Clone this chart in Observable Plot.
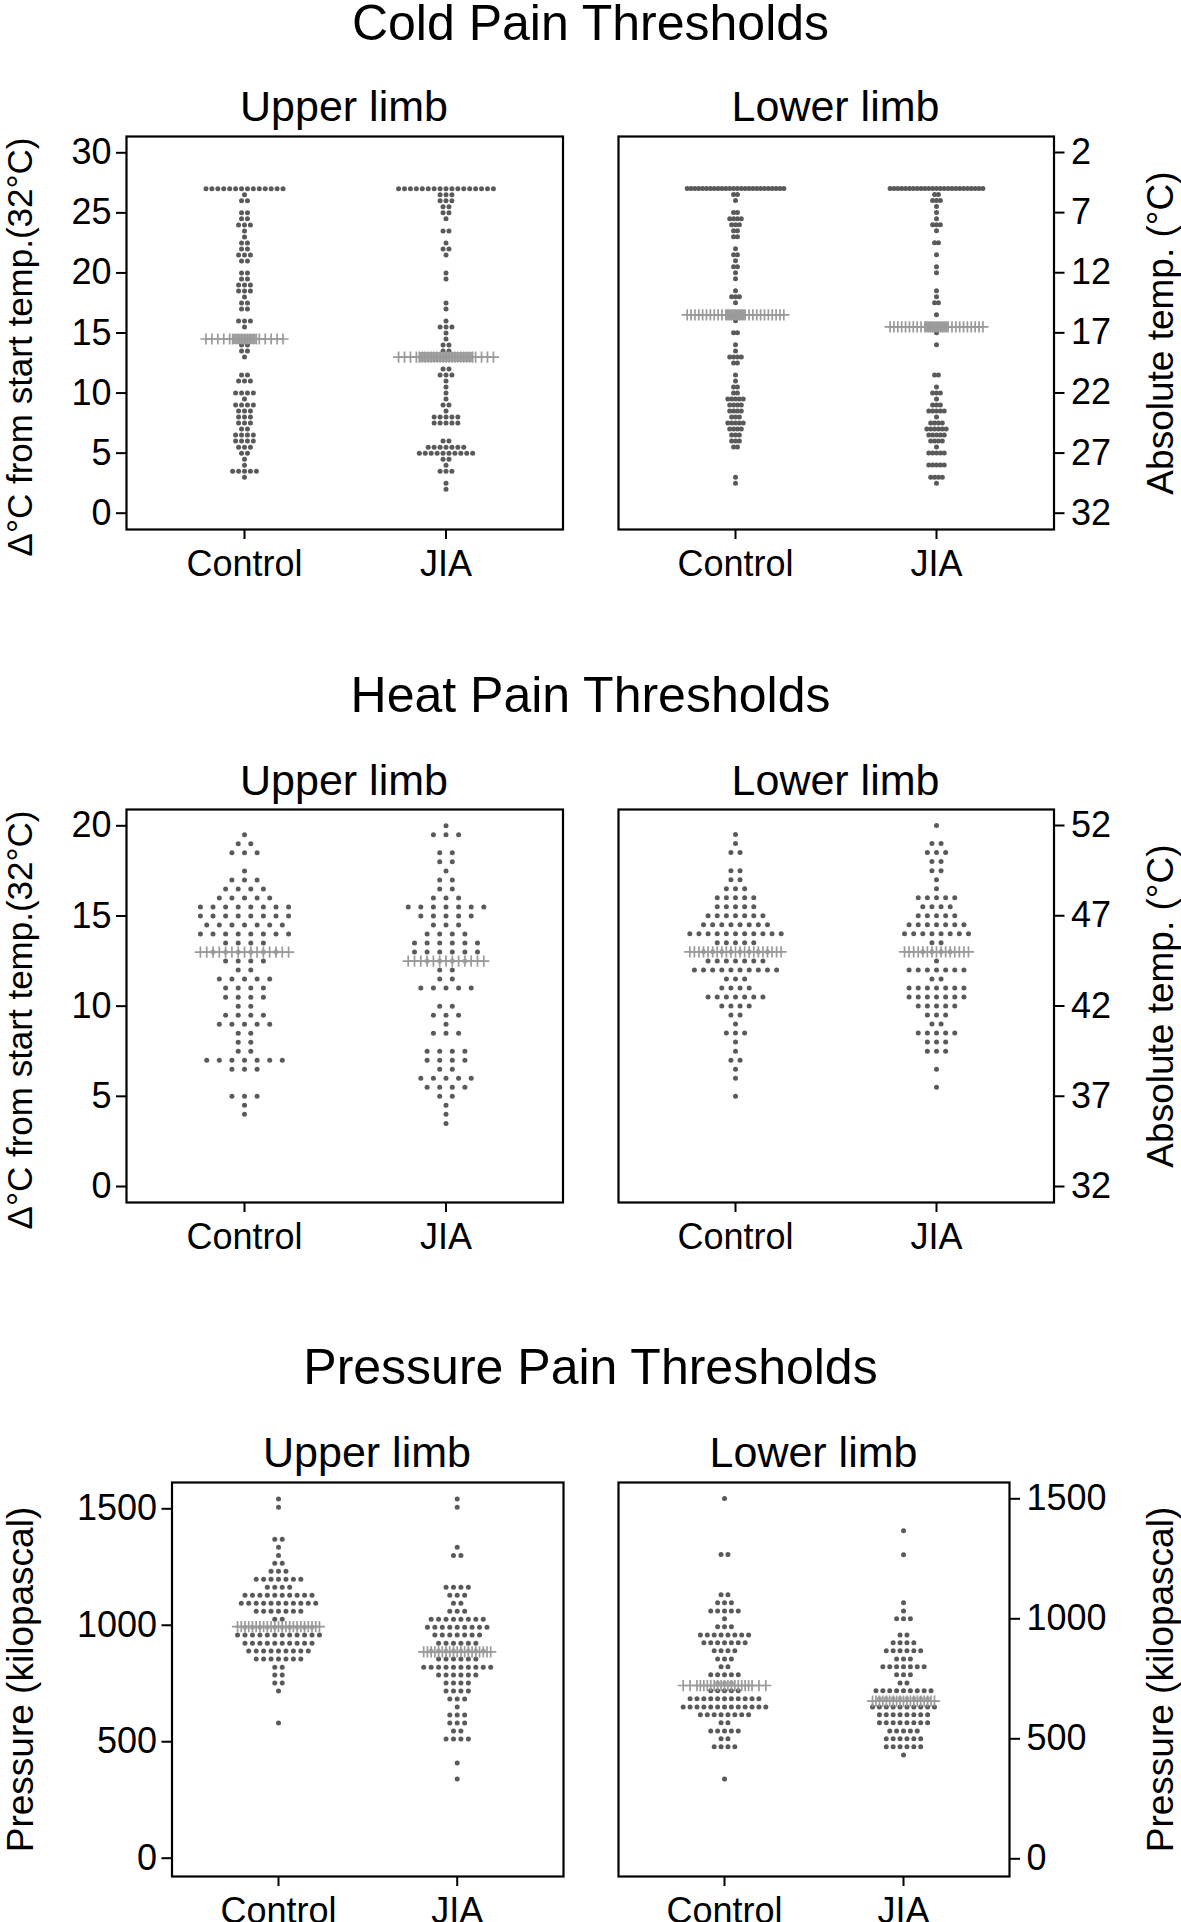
<!DOCTYPE html>
<html><head><meta charset="utf-8">
<script src="https://cdn.jsdelivr.net/npm/d3@7"></script>
<script src="https://cdn.jsdelivr.net/npm/@observablehq/plot@0.6"></script>
<style>
body{margin:0;background:#fff;}
#wrap{position:relative;width:1181px;height:1922px;overflow:hidden;font-family:"Liberation Sans",Arial,Helvetica,sans-serif;color:#000;background:#fff;}
.t{position:absolute;white-space:nowrap;line-height:1;transform:translateX(-50%);}
.panel{position:absolute;}
</style></head><body><div id="wrap"></div>
<script>
// ---------------- data ----------------
const groups = ["Control", "JIA"];

// Cold: Δ°C from start temp (32°C); [value, number of subjects]
const coldUpperControl = [[27,14],[26.5,1],[26,2],[25,2],[24.5,2],[24,3],[23.5,1],[23,1],[22.5,2],[22,2],[21.5,3],[21,2],[20,2],[19.5,2],[19,3],[18.5,3],[18,1],[17.5,2],[17,2],[16,3],[15.5,1],[14.5,4],[14,2],[13.5,2],[13,1],[11.5,2],[11,3],[10,4],[9.5,1],[9,4],[8.5,3],[8,3],[7.5,3],[7,2],[6.5,4],[6,4],[5.5,3],[5,2],[4.5,1],[4,1],[3.5,5],[3,1]];
const coldUpperJIA = [[27,17],[26.5,3],[26,3],[25.5,2],[25,2],[24.5,1],[23.5,2],[22.5,1],[22,2],[21.5,1],[20,1],[19.5,1],[17.5,1],[17,1],[16,1],[15.5,3],[15,1],[14.5,1],[14,2],[13.5,2],[13,9],[12,2],[11.5,3],[11,1],[10.5,1],[10,1],[9.5,1],[9,2],[8.5,1],[8,5],[7.5,5],[6,2],[5.5,7],[5,10],[4.5,2],[4,1],[3.5,3],[2.5,1],[2,1]];
const coldLowerControl = [[27,26],[26.5,2],[26,1],[25,2],[24.5,4],[24,3],[23.5,2],[23,2],[22,1],[21.5,2],[21,1],[20.5,2],[20,1],[19.5,1],[18.5,1],[18,3],[17.5,1],[16.5,5],[16,1],[15,2],[14,1],[13.5,1],[13,4],[12.5,2],[11.5,1],[11,1],[10.5,2],[10,2],[9.5,5],[9,4],[8.5,4],[8,3],[7.5,5],[7,4],[6.5,3],[6,3],[5.5,2],[3,1],[2.5,1]];
const coldLowerJIA = [[27,25],[26.5,2],[26,3],[25.5,1],[25,1],[24.5,1],[24,3],[23.5,1],[22.5,2],[21.5,1],[20.5,1],[20,1],[18.5,1],[18,1],[17.5,2],[16.5,1],[15.5,6],[15,1],[14,1],[11.5,2],[10.5,1],[10,3],[9.5,1],[9,3],[8.5,5],[8,1],[7.5,4],[7,6],[6.5,5],[6,4],[5.5,1],[5,5],[4,5],[3,4],[2.5,1]];
const coldUpperMedians = [14.5, 13];
const coldLowerMedians = [16.5, 15.5];

// Heat: Δ°C from start temp (32°C)
const heatUpperControl = [[19.5,1],[19,2],[18.5,3],[17.5,1],[17,3],[16.5,4],[16,5],[15.5,8],[15,8],[14.5,7],[14,8],[13.5,4],[13,6],[12.5,4],[12,2],[11.5,5],[11,4],[10.5,4],[10,2],[9.5,4],[9,5],[8.5,2],[8,2],[7.5,2],[7,7],[6.5,3],[5,3],[4.5,1],[4,1]];
const heatUpperJIA = [[20,1],[19.5,3],[18.5,2],[18,2],[17.5,1],[17,2],[16.5,2],[16,3],[15.5,7],[15,5],[14.5,3],[14,4],[13.5,6],[13,6],[12.5,4],[12,2],[11.5,2],[11,5],[10,2],[9.5,3],[9,1],[8.5,3],[7.5,4],[7,4],[6.5,2],[6,5],[5.5,4],[5,2],[4.5,1],[4,1],[3.5,1]];
const heatLowerControl = [[19.5,1],[19,1],[18.5,2],[17.5,2],[17,2],[16.5,3],[16,5],[15.5,5],[15,7],[14.5,8],[14,11],[13.5,5],[13,8],[12.5,7],[12,10],[11.5,3],[11,4],[10.5,7],[10,4],[9.5,2],[9,1],[8.5,3],[8,1],[7.5,1],[7,2],[6.5,1],[6,1],[5,1]];
const heatLowerJIA = [[20,1],[19,2],[18.5,3],[18,2],[17.5,2],[17,1],[16.5,1],[16,5],[15.5,4],[15,5],[14.5,7],[14,8],[13.5,2],[13,4],[12.5,1],[12,7],[11.5,2],[11,7],[10.5,7],[10,5],[9.5,3],[9,2],[8.5,5],[8,3],[7.5,3],[6.5,1],[5.5,1]];
const heatUpperMedians = [13, 12.5];
const heatLowerMedians = [13, 13];

// Pressure (kilopascal)
const pressureUpperControl = [[1542,1],[1507,1],[1369,2],[1335,1],[1300,1],[1266,2],[1232,3],[1198,7],[1163,4],[1129,10],[1095,11],[1060,7],[1026,2],[992,10],[958,12],[923,10],[889,9],[855,7],[820,2],[786,2],[752,2],[718,1],[580,1]];
const pressureUpperJIA = [[1542,1],[1507,1],[1335,1],[1300,2],[1163,4],[1129,3],[1095,2],[1060,3],[1026,8],[992,9],[958,7],[923,6],[889,8],[855,6],[820,10],[786,6],[752,4],[718,4],[683,3],[649,1],[615,3],[580,3],[546,2],[512,4],[409,1],[340,1]];
const pressureLowerControl = [[1501,1],[1268,2],[1100,2],[1067,3],[1033,5],[1000,1],[967,3],[933,8],[900,7],[867,4],[833,3],[800,2],[767,5],[733,3],[700,5],[667,11],[633,13],[600,8],[567,2],[533,5],[500,2],[467,4],[333,1]];
const pressureLowerJIA = [[1367,1],[1267,1],[1067,1],[1033,1],[1000,3],[933,2],[900,4],[867,6],[833,3],[800,7],[767,3],[733,2],[700,9],[667,8],[633,10],[600,8],[567,8],[533,5],[500,6],[467,6],[433,1]];
const pressureUpperMedians = [994, 886];
const pressureLowerMedians = [722, 657];

const coldTicks = [0, 5, 10, 15, 20, 25, 30];
const heatTicks = [0, 5, 10, 15, 20];
const pressureTicks = [0, 500, 1000, 1500];

// ---------------- drawing ----------------
const wrap = document.getElementById("wrap");
const FONT = "'Liberation Sans', Arial, Helvetica, sans-serif";
const DOT = "#5a5a5a", LIGHT = "#a4a4a4", CROSS = "#9a9a9a";

function addText(txt, x, baseline, size) {
  const d = document.createElement("div");
  d.className = "t";
  d.textContent = txt;
  d.style.left = x + "px";
  d.style.top = (baseline - 0.8465 * size) + "px";
  d.style.fontSize = size + "px";
  wrap.appendChild(d);
}

function buildPanel(cfg) {
  const {data, medians, ticks, tickFormat, anchor, title, titleSize, titleX, titleDy, frame, cx, yCal, binHalf, medianBlock} = cfg;
  const maxCount = d3.max(data, rows => d3.max(rows, d => d[1]));
  const step = 0.5 / maxCount;
  const pts = [];
  data.forEach((rows, g) => rows.forEach(([v, n]) => {
    for (let i = 0; i < n; i++) pts.push({x: g + (i - (n - 1) / 2) * step, y: v, med: Math.abs(v - medians[g]) < binHalf});
  }));
  // median marker: a "+" at every horizontal slot used by the group's dots
  const crosses = [];
  const blocks = [];
  data.forEach((rows, g) => {
    const offs = new Set();
    rows.forEach(([v, n]) => { for (let i = 0; i < n; i++) offs.add(i - (n - 1) / 2); });
    offs.forEach(o => crosses.push({x: g + o * step, y: medians[g]}));
    const medRow = rows.filter(([v]) => Math.abs(v - medians[g]) < binHalf);
    const cnt = d3.sum(medRow, d => d[1]);
    if (cnt > 0) blocks.push({y: medians[g], x1: g - cnt * step / 2, x2: g + cnt * step / 2});
  });

  const ppu = cx[1] - cx[0];
  const isLeft = anchor === "left";
  const marginTop = 20, marginBottom = 60;
  const mL = isLeft ? frame.left : 12;
  const mR = isLeft ? 12 : 1181 - frame.right;
  const svgLeft = isLeft ? 0 : frame.left - 12;
  const width = isLeft ? frame.right + 12 : 1181 - svgLeft;
  const height = frame.bottom - frame.top + marginTop + marginBottom;
  const xDomain = [(frame.left - cx[0]) / ppu, (frame.right - cx[0]) / ppu];
  const [[v1, p1], [v2, p2]] = yCal;
  const kpx = (p2 - p1) / (v2 - v1);
  const yDomain = [v1 + (frame.bottom - p1) / kpx, v1 + (frame.top - p1) / kpx];

  const plot = Plot.plot({
    width, height, marginTop, marginBottom, marginLeft: mL, marginRight: mR,
    x: {domain: xDomain, label: null},
    y: {domain: yDomain, label: null},
    style: {background: "transparent", overflow: "visible", fontFamily: FONT, color: "#000"},
    marks: [
      Plot.dot(pts.filter(d => !d.med), {x: "x", y: "y", r: 2.5, fill: DOT}),
      Plot.dot(pts.filter(d => d.med), {x: "x", y: "y", r: 2.5, fill: LIGHT}),
      medianBlock ? Plot.ruleY(blocks, {y: "y", x1: "x1", x2: "x2", stroke: LIGHT, strokeWidth: 10}) : null,
      Plot.dot(crosses, {x: "x", y: "y", symbol: "plus", r: 3.7, fill: "none", stroke: CROSS, strokeWidth: 1.7}),
      Plot.frame({stroke: "#000", strokeWidth: 2.2}),
      Plot.axisX({ticks: [0, 1], tickFormat: i => groups[i], tickSize: 10, tickPadding: 11, fontSize: 36, strokeWidth: 2, label: null}),
      Plot.axisY({anchor, ticks, tickFormat, tickSize: 10, tickPadding: isLeft ? 5 : 7, fontSize: 36, strokeWidth: 2, label: null}),
      Plot.text([title], {text: d => d, frameAnchor: anchor, rotate: -90, dx: titleX - (isLeft ? frame.left : frame.right), dy: titleDy || 0, fontSize: titleSize, textAnchor: "middle"})
    ]
  });
  const holder = document.createElement("div");
  holder.className = "panel";
  holder.style.left = svgLeft + "px";
  holder.style.top = (frame.top - marginTop) + "px";
  holder.appendChild(plot);
  wrap.appendChild(holder);
}

const fmt = d => `${d}`;
const deltaLabel = "\u0394\u00B0C from start temp.(32\u00B0C)";
const absLabel = "Absolute temp. (\u00B0C)";
const kpaLabel = "Pressure (kilopascal)";

const upperFrameX = {left: 126, right: 562.5};
const lowerFrameX = {left: 618, right: 1053.5};

// Cold
buildPanel({data: [coldUpperControl, coldUpperJIA], medians: coldUpperMedians, ticks: coldTicks, tickFormat: fmt, anchor: "left",
  title: deltaLabel, titleSize: 35, titleX: 20, titleDy: 14, medianBlock: true,
  frame: {...upperFrameX, top: 136, bottom: 529}, cx: [244, 445.5], yCal: [[0, 512.7], [30, 152.3]], binHalf: 0.25});
buildPanel({data: [coldLowerControl, coldLowerJIA], medians: coldLowerMedians, ticks: coldTicks, tickFormat: d => `${32 - d}`, anchor: "right",
  title: absLabel, titleSize: 37, titleX: 1161, titleDy: 0, medianBlock: true,
  frame: {...lowerFrameX, top: 136, bottom: 529}, cx: [735, 936], yCal: [[0, 512.7], [30, 152.0]], binHalf: 0.25});
// Heat
buildPanel({data: [heatUpperControl, heatUpperJIA], medians: heatUpperMedians, ticks: heatTicks, tickFormat: fmt, anchor: "left",
  title: deltaLabel, titleSize: 35, titleX: 20, titleDy: 14,
  frame: {...upperFrameX, top: 809, bottom: 1202}, cx: [244, 445.5], yCal: [[0, 1186], [20, 825.3]], binHalf: 0.25});
buildPanel({data: [heatLowerControl, heatLowerJIA], medians: heatLowerMedians, ticks: heatTicks, tickFormat: d => `${32 + d}`, anchor: "right",
  title: absLabel, titleSize: 37, titleX: 1161, titleDy: 0,
  frame: {...lowerFrameX, top: 809, bottom: 1202}, cx: [735, 936], yCal: [[0, 1186], [20, 825]], binHalf: 0.25});
// Pressure
buildPanel({data: [pressureUpperControl, pressureUpperJIA], medians: pressureUpperMedians, ticks: pressureTicks, tickFormat: fmt, anchor: "left",
  title: kpaLabel, titleSize: 37, titleX: 21, titleDy: 0,
  frame: {left: 171.5, right: 563, top: 1482, bottom: 1876}, cx: [278, 456.7], yCal: [[0, 1857.7], [1500, 1508.3]], binHalf: 17});
buildPanel({data: [pressureLowerControl, pressureLowerJIA], medians: pressureLowerMedians, ticks: pressureTicks, tickFormat: fmt, anchor: "right",
  title: kpaLabel, titleSize: 37, titleX: 1161, titleDy: 0,
  frame: {left: 618, right: 1009, top: 1482, bottom: 1876}, cx: [724, 903], yCal: [[0, 1858.3], [1500, 1498.3]], binHalf: 17});

// Titles
addText("Cold Pain Thresholds", 590.5, 40, 50);
addText("Upper limb", 344, 121, 43);
addText("Lower limb", 835.5, 121, 43);
addText("Heat Pain Thresholds", 590.5, 712, 50);
addText("Upper limb", 344, 795, 43);
addText("Lower limb", 835.5, 795, 43);
addText("Pressure Pain Thresholds", 590.5, 1384, 50);
addText("Upper limb", 367, 1467, 43);
addText("Lower limb", 813.5, 1467, 43);
</script>
</body></html>
